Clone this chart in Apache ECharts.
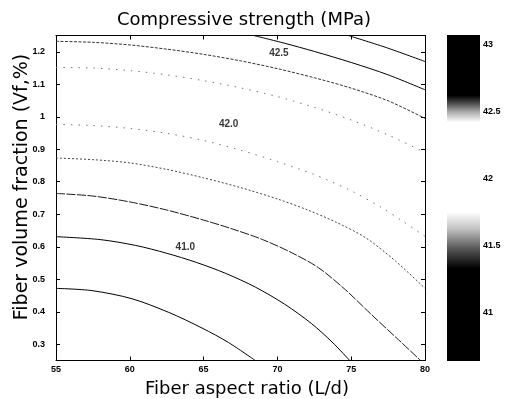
<!DOCTYPE html>
<html><head><meta charset="utf-8">
<script src="https://cdn.jsdelivr.net/npm/echarts@6/dist/echarts.min.js"></script>
<style>html,body{margin:0;padding:0;background:#fff}#c{width:505px;height:399px}</style>
</head><body><div id="c"></div>
<script>
// ---- data ----
const xTicks = [55, 60, 65, 70, 75, 80];
const yTicks = [0.3, 0.4, 0.5, 0.6, 0.7, 0.8, 0.9, 1.0, 1.1, 1.2];
const cbTicks = [41, 41.5, 42, 42.5, 43];
const cbRange = [40.64, 43.07];
const levels = [40.75, 41.0, 41.25, 41.5, 41.75, 42.25, 42.5, 42.75, 43.0];

const c40_75 = [[55,0.472],[57.44,0.465],[60.15,0.440],[62.64,0.398],[64.89,0.350],[66.7,0.305],[68.5,0.25]];
const c41_00 = [[55,0.631],[58,0.622],[60.4,0.604],[62.5,0.580],[64.5,0.552],[66.5,0.518],[68.5,0.476],[70.5,0.423],[72.3,0.364],[73.7,0.307],[74.9,0.25]];
const c41_25 = [[55,0.764],[57.5,0.756],[60,0.738],[62.5,0.713],[65,0.682],[67,0.654],[69,0.622],[71,0.581],[72.8,0.535],[74.6,0.468],[76.4,0.390],[78.2,0.314],[79.7,0.25]];
const c41_50 = [[55,0.873],[57.5,0.868],[60,0.858],[62.5,0.838],[65,0.812],[67.5,0.782],[70,0.747],[72,0.714],[74,0.675],[76,0.627],[78,0.556],[80,0.472]];
const c41_75 = [[55,0.976],[57.5,0.973],[60,0.964],[62.5,0.949],[65,0.927],[67.5,0.897],[70,0.862],[72.5,0.822],[75,0.772],[77,0.722],[78.5,0.678],[80,0.632]];
const c42_25 = [[55,1.152],[57.5,1.150],[60,1.142],[62.5,1.129],[65,1.111],[67.5,1.089],[70,1.062],[72.5,1.029],[75,0.990],[77.5,0.944],[80,0.890]];
const c42_50 = [[55,1.232],[57.5,1.229],[60,1.221],[62.5,1.208],[65,1.192],[67.5,1.172],[70,1.148],[72.5,1.120],[75,1.088],[77.5,1.049],[80,0.995]];
const c42_75 = [[68.4,1.25],[70.5,1.226],[72.5,1.201],[75,1.167],[77.5,1.129],[80,1.083]];
const c43_00 = [[74.8,1.25],[77.3,1.214],[80,1.170]];
const contours = [c40_75, c41_00, c41_25, c41_50, c41_75, c42_25, c42_50, c42_75, c43_00];

const labelText = ['41.0', '42.0', '42.5'];
const labelX = [63.76, 66.7, 70.1];
const labelY = [0.598, 0.978, 1.195];

// ---- styles ----
const lineColor = ['#000','#000','#1a1a1a','#444','#777','#777','#333','#000','#000'];
const lineDash  = ['solid','solid',[9,1.5],[2,2],[1.5,6],[1.5,6],[3,1.5],'solid','solid'];
// grayscale colormap stops (value, gray level 0=black 1=white)
const cmapStops = [[40.64,0],[41.33,0],[41.48,0.35],[41.62,0.75],[41.75,1],[42.42,1],[42.5,0.65],[42.56,0.3],[42.62,0],[43.07,0]];

const FONT = 'DejaVu Sans';
const TICKFONT = 'Liberation Sans';
const gray = g => { const c = Math.round(g*255); return `rgb(${c},${c},${c})`; };

const chart = echarts.init(document.getElementById('c'), null, {renderer: 'canvas'});

const tickLabel = {fontFamily: TICKFONT, fontSize: 9, fontWeight: 'bold', color: '#000'};
const axLine = {show: true, lineStyle: {color: '#000', width: 1}};
const inTick = {show: true, inside: true, length: 4, lineStyle: {color: '#000', width: 1}};

const series = contours.map((pts, i) => ({
  type: 'line', xAxisIndex: 0, yAxisIndex: 0, data: pts, showSymbol: false,
  smooth: 0.3,
  clip: true, silent: true,
  lineStyle: {color: lineColor[i], width: 1, type: lineDash[i]}
}));

series.push({
  type: 'scatter', xAxisIndex: 0, yAxisIndex: 0, symbolSize: 0, silent: true,
  data: labelText.map((t, i) => ({value: [labelX[i], labelY[i]], name: t})),
  label: {show: true, position: 'inside', formatter: p => p.name,
          fontFamily: TICKFONT, fontSize: 10, fontWeight: 'bold', color: '#000'}
});

// colorbar
const cbSpan = cbRange[1] - cbRange[0];
series.push({type: 'bar', xAxisIndex: 2, yAxisIndex: 2, stack: 'cb', barWidth: '100%', silent: true,
  data: [cbRange[0]], itemStyle: {color: 'rgba(0,0,0,0)'}});
series.push({type: 'bar', xAxisIndex: 2, yAxisIndex: 2, stack: 'cb', barWidth: '100%', silent: true,
  data: [cbSpan],
  itemStyle: {color: new echarts.graphic.LinearGradient(0, 1, 0, 0,
    cmapStops.map(([v, g]) => ({offset: (v - cbRange[0]) / cbSpan, color: gray(g)})))}});

chart.setOption({
  animation: false,
  backgroundColor: '#fff',
  grid: [
    {left: 56, top: 35.5, width: 369, height: 325},
    {left: 447, top: 35, width: 33, height: 326}
  ],
  xAxis: [
    {gridIndex: 0, type: 'value', min: 55, max: 80, interval: 5, position: 'bottom',
     axisLine: axLine, axisTick: inTick, splitLine: {show: false},
     axisLabel: Object.assign({margin: 5}, tickLabel)},
    {gridIndex: 0, type: 'value', min: 55, max: 80, interval: 5, position: 'top',
     axisLine: axLine, axisTick: inTick, splitLine: {show: false}, axisLabel: {show: false}},
    {gridIndex: 1, type: 'category', data: ['cb'], show: false}
  ],
  yAxis: [
    {gridIndex: 0, type: 'value', min: 0.25, max: 1.25, position: 'left',
     axisLine: axLine, splitLine: {show: false},
     axisTick: Object.assign({customValues: yTicks}, inTick),
     axisLabel: Object.assign({margin: 11, customValues: yTicks,
       formatter: v => (Math.abs(v - 1) < 1e-9 ? '1' : v.toFixed(1))}, tickLabel)},
    {gridIndex: 0, type: 'value', min: 0.25, max: 1.25, position: 'right',
     axisLine: axLine, splitLine: {show: false},
     axisTick: Object.assign({customValues: yTicks}, inTick), axisLabel: {show: false}},
    {gridIndex: 1, type: 'value', min: cbRange[0], max: cbRange[1], position: 'right',
     axisLine: {show: false}, splitLine: {show: false},
     axisTick: {show: false},
     axisLabel: Object.assign({margin: 3, customValues: cbTicks, formatter: v => String(v)}, tickLabel)}
  ],
  graphic: [
    {type: 'text', x: 244, y: 20, silent: true,
     style: {text: 'Compressive strength (MPa)', font: `18px "${FONT}"`, fill: '#000', textAlign: 'center', textVerticalAlign: 'middle'}},
    {type: 'text', x: 247, y: 389, silent: true,
     style: {text: 'Fiber aspect ratio (L/d)', font: `18px "${FONT}"`, fill: '#000', textAlign: 'center', textVerticalAlign: 'middle'}},
    {type: 'text', x: 22, y: 187, rotation: Math.PI / 2, silent: true,
     style: {text: 'Fiber volume fraction (Vf,%)', font: `19px "${FONT}"`, fill: '#000', textAlign: 'center', textVerticalAlign: 'middle'}}
  ],
  series: series
});
</script></body></html>
